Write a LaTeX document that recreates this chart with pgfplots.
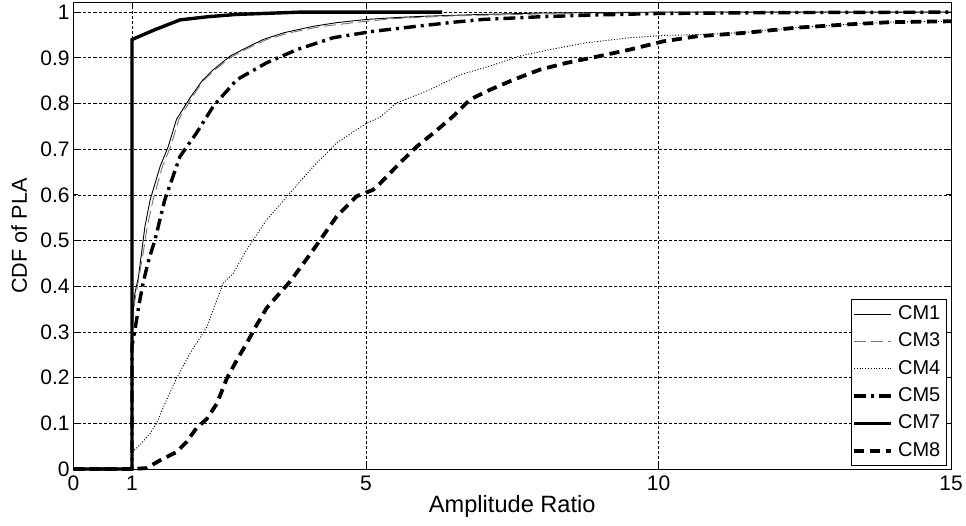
\documentclass[border=0pt]{standalone}
\usepackage{fontspec}
\setmainfont{Liberation Sans}
\usepackage{pgfplots}
\pgfplotsset{compat=1.18}
\begin{document}
\begin{tikzpicture}
\begin{axis}[
  name=ax,
  scale only axis,
  width=438.75pt, height=233pt,
  xmin=0, xmax=15, ymin=0, ymax=1.02,
  xtick={0,1,5,10,15},
  ytick={0,0.1,0.2,0.3,0.4,0.5,0.6,0.7,0.8,0.9,1},
  yticklabels={0,0.1,0.2,0.3,0.4,0.5,0.6,0.7,0.8,0.9,1},
  /pgf/number format/assume math mode=true,
  tick label style={font=\fontsize{10.5}{12}\selectfont},
  yticklabel style={xshift=1.6pt},
  tick align=inside,
  major tick length=2.5pt,
  tick style={black, line width=0.4pt},
  axis line style={black, line width=0.5pt},
  grid=major,
  major grid style={black, line width=0.35pt, dash pattern=on 1.5pt off 1pt},
  xlabel={Amplitude Ratio},
  ylabel={CDF of PLA},
  xlabel style={font=\fontsize{11.8}{14}\selectfont, at={(axis description cs:0.5,-0.094)}, anchor=base},
  ylabel style={font=\fontsize{10.8}{13}\selectfont, at={(axis description cs:-0.053,0.5)}, anchor=base},
  clip=false,
  legend cell align=left,
  legend image code/.code={\draw[#1] (0pt,0pt) -- (18.5pt,0pt);},
  legend style={at={(axis description cs:1,0)}, anchor=south east, xshift=-2pt, yshift=1.5pt,
    draw=black, line width=0.5pt, fill=white, font=\fontsize{10}{12}\selectfont,
    inner xsep=0.5pt, inner ysep=0.5pt, nodes={inner sep=2.6pt}},
]
% CM1
\addplot[black, line width=0.45pt] coordinates {
(0,0)(1,0)(1,0.32)(1.05,0.385)(1.11,0.42)(1.17,0.48)(1.22,0.53)(1.31,0.589)(1.48,0.662)(1.62,0.706)(1.76,0.765)(1.99,0.812)(2.2,0.85)(2.39,0.874)(2.68,0.904)(3.0,0.925)(3.24,0.94)(3.6,0.955)(4.1,0.969)(4.5,0.977)(5.01,0.984)(5.5,0.988)(6,0.991)(7,0.995)(8,0.998)(9,0.999)(10,1)(15,1)};
\addlegendentry{CM1}
% CM3
\addplot[black!55, line width=0.45pt, dash pattern=on 6pt off 2.5pt] coordinates {
(0,0)(1,0)(1,0.30)(1.05,0.37)(1.12,0.42)(1.2,0.48)(1.26,0.53)(1.36,0.589)(1.52,0.662)(1.66,0.706)(1.8,0.765)(2.02,0.812)(2.22,0.85)(2.42,0.874)(2.7,0.902)(3.0,0.922)(3.3,0.94)(3.7,0.955)(4.2,0.968)(5,0.98)(5.5,0.986)(6.5,0.992)(8,0.996)(10,0.999)(12,1)(15,1)};
\addlegendentry{CM3}
% CM4
\addplot[black, line width=0.45pt, dash pattern=on 0.5pt off 0.9pt] coordinates {
(0,0)(1,0)(1,0.037)(1.15,0.055)(1.31,0.078)(1.42,0.1)(1.59,0.151)(1.76,0.198)(1.99,0.253)(2.28,0.311)(2.42,0.36)(2.56,0.407)(2.73,0.428)(2.96,0.48)(3.3,0.545)(3.7,0.604)(4.1,0.662)(4.5,0.714)(5.01,0.757)(5.24,0.77)(5.52,0.801)(6.09,0.83)(6.61,0.863)(7.12,0.882)(7.63,0.904)(8.15,0.918)(8.77,0.933)(9.51,0.944)(10.08,0.949)(10.8,0.951)(11.51,0.956)(12.36,0.966)(13.22,0.973)(13.96,0.978)(15,0.98)};
\addlegendentry{CM4}
% CM5
\addplot[black, line width=1.7pt, dash pattern=on 6pt off 2.5pt on 1.5pt off 2.5pt] coordinates {
(0,0)(1,0)(1,0.27)(1.05,0.304)(1.12,0.36)(1.19,0.407)(1.27,0.45)(1.34,0.48)(1.39,0.5)(1.56,0.589)(1.7,0.64)(1.82,0.684)(2.1,0.735)(2.39,0.794)(2.79,0.852)(3.3,0.889)(3.82,0.918)(4.44,0.944)(5.12,0.958)(5.8,0.968)(6.5,0.978)(7,0.984)(8,0.99)(9,0.994)(10,0.997)(12,0.999)(15,1)};
\addlegendentry{CM5}
% CM7
\addplot[black, line width=1.7pt] coordinates {
(0,0)(1,0)(1,0.94)(1.4,0.962)(1.82,0.983)(2.3,0.99)(2.79,0.995)(3.87,1)(6.3,1)};
\addlegendentry{CM7}
% CM8
\addplot[black, line width=1.9pt, dash pattern=on 5pt off 3pt] coordinates {
(0,0)(1,0)(1.25,0.002)(1.48,0.019)(1.76,0.037)(1.93,0.059)(2.1,0.089)(2.28,0.11)(2.45,0.143)(2.62,0.198)(2.79,0.238)(2.96,0.275)(3.13,0.315)(3.3,0.352)(3.47,0.377)(3.7,0.41)(3.93,0.45)(4.1,0.48)(4.5,0.553)(4.84,0.597)(5.12,0.611)(5.24,0.625)(5.58,0.67)(5.87,0.706)(6.15,0.735)(6.49,0.772)(6.78,0.809)(7.12,0.83)(7.52,0.852)(7.97,0.874)(8.43,0.889)(9.0,0.904)(9.51,0.918)(10.08,0.936)(10.65,0.947)(11.51,0.955)(12.36,0.966)(13.22,0.973)(13.96,0.978)(15,0.98)};
\addlegendentry{CM8}
\end{axis}
\pgfresetboundingbox
\path ([xshift=-36.75pt,yshift=-28pt]ax.south west) rectangle ([xshift=7.5pt,yshift=1.5pt]ax.north east);
\end{tikzpicture}
\end{document}
